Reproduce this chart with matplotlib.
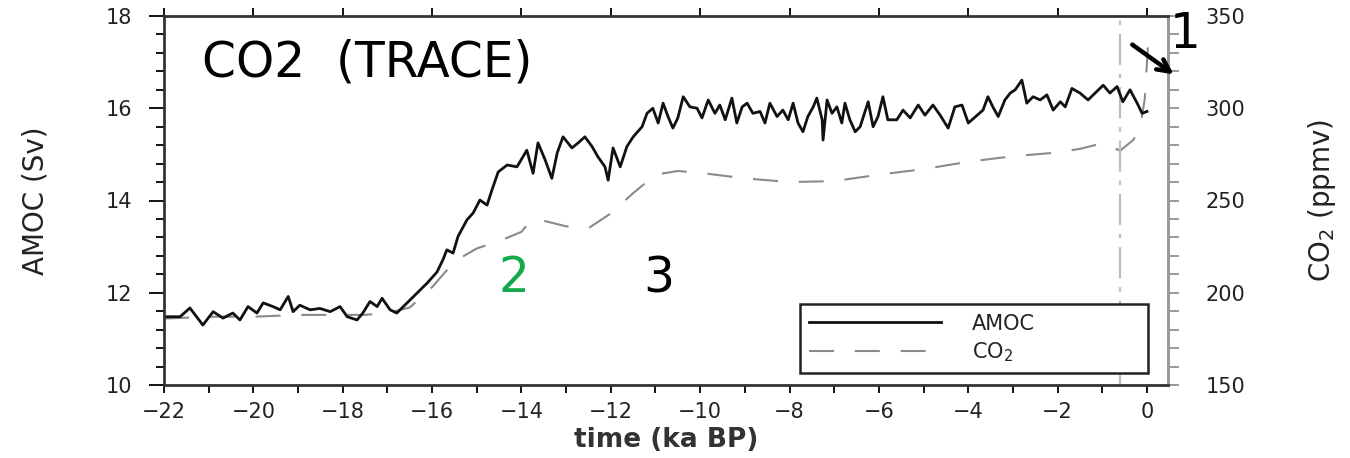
import matplotlib
matplotlib.use("Agg")
import matplotlib.pyplot as plt
from matplotlib.ticker import MultipleLocator

# ---------------- data ----------------
amoc_t = [-22.0, -21.64, -21.42, -21.13, -20.9, -20.68, -20.46, -20.3, -20.12, -19.92,
          -19.78, -19.56, -19.4, -19.22, -19.11, -18.96, -18.73, -18.51, -18.28, -18.06,
          -17.9, -17.68, -17.55, -17.39, -17.23, -17.12, -16.94, -16.79, -16.56, -16.34,
          -16.11, -15.89, -15.76, -15.67, -15.53, -15.42, -15.22, -15.08, -14.93, -14.77,
          -14.66, -14.52, -14.32, -14.1, -13.99, -13.88, -13.74, -13.63, -13.47, -13.32,
          -13.2, -13.07, -12.87, -12.73, -12.58, -12.42, -12.29, -12.13, -12.06, -11.95,
          -11.79, -11.64, -11.5, -11.3, -11.19, -11.06, -10.94, -10.83, -10.72, -10.61,
          -10.5, -10.38, -10.23, -10.07, -9.96, -9.82, -9.67, -9.56, -9.44, -9.29,
          -9.18, -9.06, -8.95, -8.82, -8.66, -8.55, -8.44, -8.28, -8.15, -8.03,
          -7.92, -7.81, -7.7, -7.59, -7.47, -7.39, -7.27, -7.25, -7.16, -7.05,
          -6.94, -6.83, -6.76, -6.65, -6.53, -6.42, -6.24, -6.13, -6.02, -5.91,
          -5.8, -5.6, -5.46, -5.3, -5.12, -4.97, -4.79, -4.63, -4.45, -4.3,
          -4.14, -4.0, -3.8, -3.67, -3.56, -3.45, -3.33, -3.18, -3.06, -2.95,
          -2.8, -2.69, -2.55, -2.39, -2.24, -2.1, -1.94, -1.83, -1.68, -1.5,
          -1.32, -1.16, -0.98, -0.83, -0.67, -0.54, -0.38, -0.22, -0.11, 0.0]
amoc_v = [11.48, 11.48, 11.67, 11.30, 11.59, 11.45, 11.56, 11.41, 11.70, 11.56,
          11.78, 11.70, 11.63, 11.92, 11.59, 11.73, 11.63, 11.66, 11.59, 11.70,
          11.48, 11.41, 11.56, 11.81, 11.70, 11.88, 11.63, 11.56, 11.78, 11.99,
          12.21, 12.45, 12.71, 12.93, 12.86, 13.22, 13.58, 13.73, 14.01, 13.90,
          14.23, 14.62, 14.77, 14.73, 14.91, 15.09, 14.59, 15.25, 14.88, 14.48,
          15.03, 15.38, 15.14, 15.25, 15.38, 15.17, 14.95, 14.73, 14.44, 15.14,
          14.73, 15.17, 15.38, 15.60, 15.89, 16.00, 15.68, 16.11, 15.82, 15.57,
          15.79, 16.25, 16.03, 16.00, 15.79, 16.18, 15.89, 16.07, 15.75, 16.22,
          15.68, 16.03, 16.11, 15.89, 15.93, 15.68, 16.11, 15.82, 15.96, 15.75,
          16.11, 15.68, 15.49, 15.82, 16.03, 16.22, 15.75, 15.31, 16.18, 15.89,
          16.03, 15.68, 16.11, 15.75, 15.49, 15.60, 16.14, 15.60, 15.82, 16.25,
          15.75, 15.75, 15.96, 15.79, 16.07, 15.85, 16.07, 15.85, 15.57, 16.03,
          16.07, 15.68, 15.85, 15.96, 16.25, 16.03, 15.82, 16.18, 16.33, 16.40,
          16.61, 16.11, 16.25, 16.18, 16.29, 15.96, 16.14, 16.03, 16.43, 16.33,
          16.18, 16.33, 16.50, 16.33, 16.47, 16.14, 16.40, 16.11, 15.89, 15.93]

co2_t = [-22.0, -21.0, -20.0, -19.0, -18.0, -17.5, -17.0, -16.5, -16.0, -15.5,
         -15.0, -14.5, -14.0, -13.8, -13.5, -13.0, -12.5, -12.0, -11.5, -11.0,
         -10.5, -10.0, -9.0, -8.0, -7.0, -6.0, -5.0, -4.0, -3.0, -2.0,
         -1.5, -1.0, -0.6, -0.3, -0.15, -0.05, 0.0, 0.04]
co2_v = [186, 187, 187, 188, 188, 188, 189, 192, 203, 217,
         224, 228, 233, 239, 239, 236, 235, 243, 254, 264,
         266, 265, 262, 260, 260.5, 264, 267, 271, 274, 276,
         278, 281, 277, 283, 290, 305, 325, 342]

marker_time = -0.6
x_ticks = [-22, -20, -18, -16, -14, -12, -10, -8, -6, -4, -2, 0]
amoc_ticks = [10, 12, 14, 16, 18]
co2_ticks = [150, 200, 250, 300, 350]

# ---------------- figure ----------------
fig = plt.figure(figsize=(13.5, 4.58), dpi=100)
ax = fig.add_axes([164/1350, 73/458, 1004/1350, 369/458])
ax2 = ax.twinx()
ax.set_zorder(ax2.get_zorder() + 1)
ax.patch.set_visible(False)

# CO2 (right axis)
l_co2, = ax2.plot(co2_t, co2_v, color='#8a8a8a', lw=1.5, dashes=(12, 10))
ax2.axvline(marker_time, color='#bdbdbd', lw=1.6, dashes=(14, 4, 2, 4))
ax2.set_ylim(150, 350)
ax2.set_yticks(co2_ticks)
ax2.yaxis.set_minor_locator(MultipleLocator(10))
ax2.tick_params(axis='y', which='both', direction='out', color='#888888',
                width=1.2, labelsize=15, labelcolor='#222222', pad=19)
ax2.tick_params(axis='y', which='major', length=8)
ax2.tick_params(axis='y', which='minor', length=8)
ax2.set_ylabel('CO$_2$ (ppmv)', fontsize=20, color='#222222', labelpad=44)
for s in ['left', 'top', 'bottom']:
    ax2.spines[s].set_visible(False)
ax2.spines['right'].set_color('#999999')
ax2.spines['right'].set_linewidth(2.2)

# AMOC (left axis)
l_amoc, = ax.plot(amoc_t, amoc_v, color='#111111', lw=2.0)
ax.set_xlim(-22, 0.47)
ax.set_ylim(10, 18)
ax.set_xticks(x_ticks)
ax.set_xticklabels([str(v).replace('-', '\u2212') for v in x_ticks])
ax.xaxis.set_minor_locator(MultipleLocator(1))
ax.set_yticks(amoc_ticks)
ax.yaxis.set_minor_locator(MultipleLocator(0.4))
ax.tick_params(axis='x', which='both', direction='out', top=True, bottom=True,
               width=1.3, labelsize=15, labelcolor='#222222', pad=6)
ax.tick_params(axis='x', which='major', length=6)
ax.tick_params(axis='x', which='minor', length=6, top=False)
ax.tick_params(axis='y', which='both', direction='out', width=1.3,
               labelsize=15, labelcolor='#222222', pad=12)
ax.tick_params(axis='y', which='major', length=11)
ax.tick_params(axis='y', which='minor', length=6)
ax.spines['right'].set_visible(False)
for s in ['left', 'top', 'bottom']:
    ax.spines[s].set_color('#333333')
    ax.spines[s].set_linewidth(2.0)
ax.set_ylabel('AMOC (Sv)', fontsize=20, color='#222222', labelpad=40)
ax.set_xlabel('time (ka BP)', fontsize=19, fontweight='bold', color='#333333', labelpad=4)

# legend
leg = ax.legend([l_amoc, l_co2], ['AMOC', 'CO$_2$'],
                loc='lower left', bbox_to_anchor=(636/1004, 12/369, 348/1004, 70/369),
                mode='expand', fontsize=15, handlelength=6.3, handletextpad=1.5,
                labelspacing=0.3, borderpad=0.45, fancybox=False, framealpha=1,
                edgecolor='#222222', borderaxespad=0)
leg.get_frame().set_linewidth(1.8)
for t in leg.get_texts():
    t.set_color('#222222')

# annotations
ax.text(0.038, 0.835, 'CO2  (TRACE)', transform=ax.transAxes, fontsize=35,
        color='black', va='baseline', ha='left')
ax.text(0.333, 0.252, '2', transform=ax.transAxes, fontsize=35,
        color='#12a94b', va='baseline', ha='left')
ax.text(0.477, 0.252, '3', transform=ax.transAxes, fontsize=35,
        color='black', va='baseline', ha='left')
fig.text(1170/1350, (458-48)/458, '1', fontsize=35, color='black', va='baseline', ha='left')
fig.add_artist(matplotlib.patches.FancyArrowPatch(
    (1130/1350, (458-43)/458), (1176/1350, (458-76)/458),
    transform=fig.transFigure, arrowstyle='->', mutation_scale=22,
    lw=3.2, color='black'))

fig.savefig('out.png', dpi=100)
